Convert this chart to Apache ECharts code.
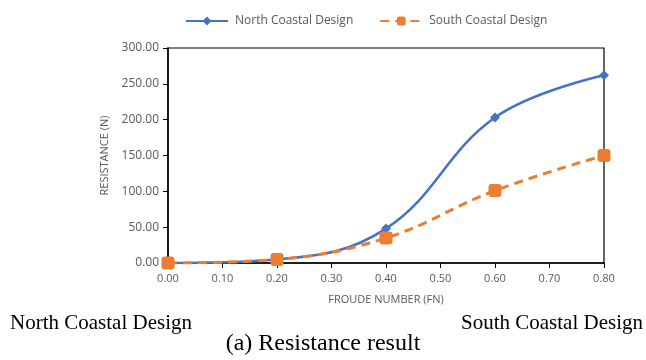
<!DOCTYPE html>
<html><head><meta charset="utf-8">
<script src="https://cdn.jsdelivr.net/npm/echarts@6/dist/echarts.min.js"></script>
<style>html,body{margin:0;padding:0;background:#fff;}#c{width:646px;height:360px;}</style>
</head><body><div id="c"></div>
<script>
const froude = [0.0, 0.2, 0.4, 0.6, 0.8];
const northValues = [0, 5, 48, 203, 262];
const southValues = [0, 5, 35, 101, 150];
const xTicks = [0, 0.1, 0.2, 0.3, 0.4, 0.5, 0.6, 0.7, 0.8];

const chart = echarts.init(document.getElementById('c'));
const labelFont = 'Open Sans';
chart.setOption({
  animation: false,
  legend: {
    top: 10, left: 180, itemGap: 26, itemWidth: 42, itemHeight: 11,
    textStyle: {color: '#595959', fontFamily: labelFont, fontSize: 12, padding: [0, 0, 0, 2]},
    data: ['North Coastal Design', 'South Coastal Design']
  },
  grid: {left: 168, right: 42, top: 48, bottom: 97, show: true, borderColor: '#000', borderWidth: 1.2, containLabel: false},
  xAxis: {
    type: 'value', min: 0, max: 0.8, interval: 0.1,
    name: 'FROUDE NUMBER (FN)', nameLocation: 'middle', nameGap: 31,
    nameTextStyle: {color: '#595959', fontFamily: labelFont, fontSize: 11},
    axisLine: {show: true, lineStyle: {color: '#000', width: 1.5}},
    axisTick: {show: true, length: 5, lineStyle: {color: '#000'}},
    axisLabel: {color: '#595959', fontFamily: labelFont, fontSize: 11, margin: 10, formatter: v => v.toFixed(2)},
    splitLine: {show: false}
  },
  yAxis: {
    type: 'value', min: 0, max: 300, interval: 50,
    name: 'RESISTANCE (N)', nameLocation: 'middle', nameGap: 58, nameRotate: 90,
    nameTextStyle: {color: '#595959', fontFamily: labelFont, fontSize: 11},
    axisLine: {show: true, lineStyle: {color: '#000', width: 1.5}},
    axisTick: {show: true, length: 5, lineStyle: {color: '#000'}},
    axisLabel: {color: '#595959', fontFamily: labelFont, fontSize: 12, margin: 9, formatter: v => v.toFixed(2)},
    splitLine: {show: false}
  },
  series: [
    {
      name: 'North Coastal Design', type: 'line', smooth: 0.4,
      data: froude.map((x, i) => [x, northValues[i]]),
      symbol: 'diamond', symbolSize: 10,
      lineStyle: {color: '#4472C4', width: 2.5},
      itemStyle: {color: '#4472C4'}
    },
    {
      name: 'South Coastal Design', type: 'line', smooth: 0.4,
      data: froude.map((x, i) => [x, southValues[i]]),
      symbol: 'roundRect', symbolSize: 13,
      lineStyle: {color: '#ED7D31', width: 3, type: [9, 6]},
      itemStyle: {color: '#ED7D31'}
    }
  ],
  graphic: [
    {type: 'text', left: 10, top: 313, style: {text: 'North Coastal Design', font: '21px "Liberation Serif"', fill: '#000'}},
    {type: 'text', right: 3, top: 313, style: {text: 'South Coastal Design', font: '21px "Liberation Serif"', fill: '#000'}},
    {type: 'text', left: 'center', top: 332, style: {text: '(a) Resistance result', font: '24px "Liberation Serif"', fill: '#000'}}
  ]
});
</script></body></html>
